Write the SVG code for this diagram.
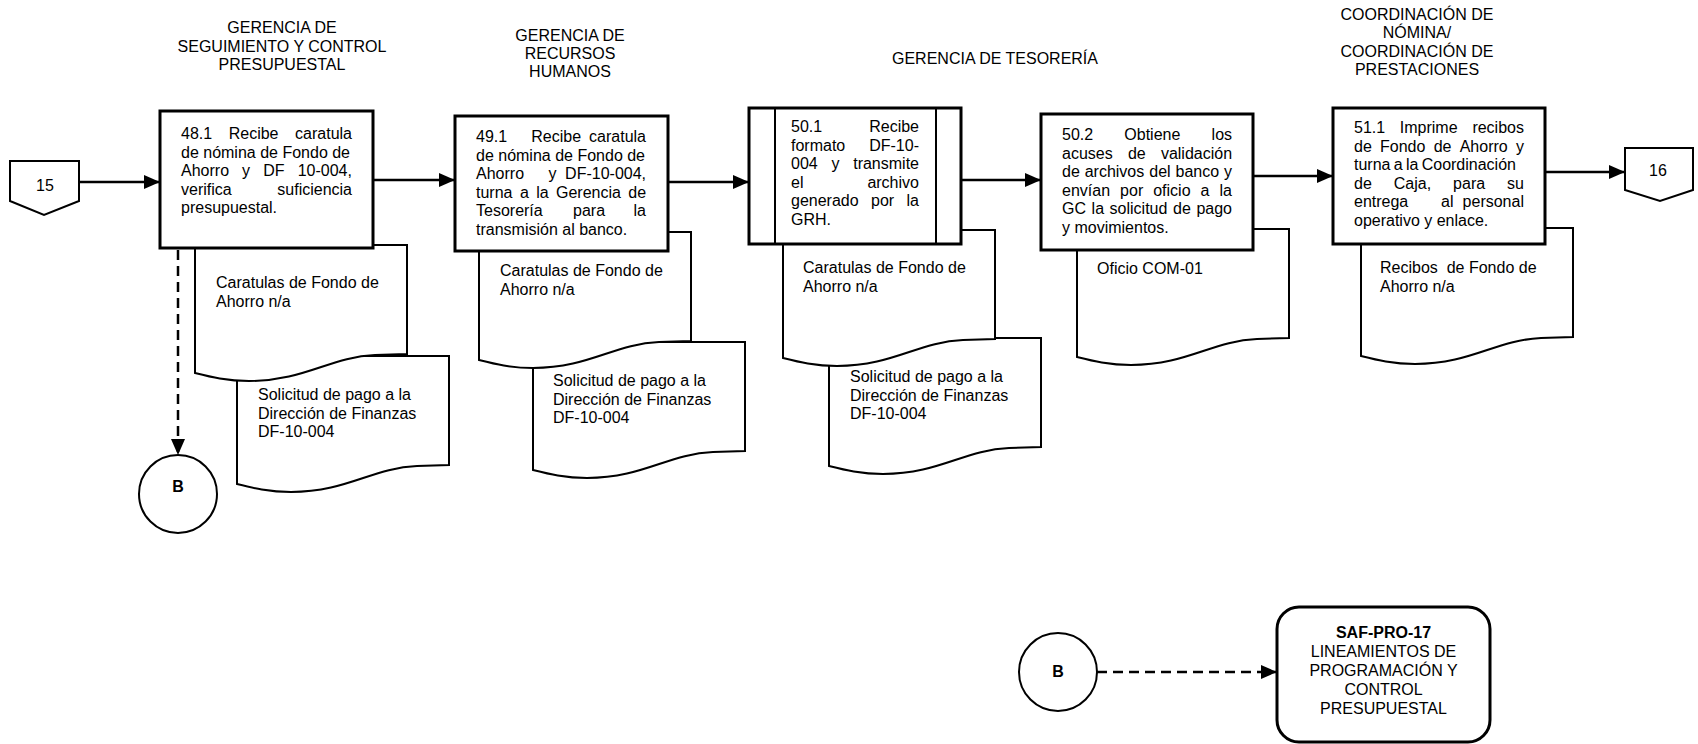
<svg xmlns="http://www.w3.org/2000/svg" xmlns:xlink="http://www.w3.org/1999/xlink" width="1698" height="744" viewBox="0 0 1698 744">
  <style>
    text { font-family: "Liberation Sans", Arial, sans-serif; font-size: 16px; fill: #000; }
    .hdr { text-anchor: middle; }
    .mid { text-anchor: middle; }
    .bold { font-weight: bold; }
    .box { fill: #fff; stroke: #000; stroke-width: 3; }
    .doc { fill: #fff; stroke: #000; stroke-width: 2; }
    .thin { fill: #fff; stroke: #000; stroke-width: 2; }
    .line { fill: none; stroke: #000; stroke-width: 2.5; }
    .dash { fill: none; stroke: #000; stroke-width: 2.5; stroke-dasharray: 10 6; }
  </style>
  <defs>
    <!-- document symbol: flat top, wavy bottom; origin at top-left -->
    <path id="doc" d="M0,0 H212 V109 L180,110 C135,112 110,136 54,136 C32,136 16,132 0,128 Z"/>
    <marker id="arrow" markerUnits="userSpaceOnUse" markerWidth="16" markerHeight="14" refX="16" refY="7" orient="auto">
      <path d="M0,0 L16,7 L0,14 Z" fill="#000"/>
    </marker>
  </defs>

  <rect width="1698" height="744" fill="#fff"/>

  <!-- column headers -->
  <g id="hdr-seguimiento">
    <text class="hdr" x="282" y="33">GERENCIA DE</text>
    <text class="hdr" x="282" y="51.5">SEGUIMIENTO Y CONTROL</text>
    <text class="hdr" x="282" y="70">PRESUPUESTAL</text>
  </g>
  <g id="hdr-rrhh">
    <text class="hdr" x="570" y="41">GERENCIA DE</text>
    <text class="hdr" x="570" y="59">RECURSOS</text>
    <text class="hdr" x="570" y="77">HUMANOS</text>
  </g>
  <g id="hdr-tesoreria">
    <text class="hdr" x="995" y="64">GERENCIA DE TESORERÍA</text>
  </g>
  <g id="hdr-nomina">
    <text class="hdr" x="1417" y="19.5">COORDINACIÓN DE</text>
    <text class="hdr" x="1417" y="38">NÓMINA/</text>
    <text class="hdr" x="1417" y="56.5">COORDINACIÓN DE</text>
    <text class="hdr" x="1417" y="75">PRESTACIONES</text>
  </g>

  <!-- connectors -->
  <g id="connectors">
    <path class="line" d="M79,182 H160" marker-end="url(#arrow)"/>
    <path class="line" d="M373,180 H455" marker-end="url(#arrow)"/>
    <path class="line" d="M668,182 H749" marker-end="url(#arrow)"/>
    <path class="line" d="M961,180 H1041" marker-end="url(#arrow)"/>
    <path class="line" d="M1253,176 H1333" marker-end="url(#arrow)"/>
    <path class="line" d="M1545,172 H1625" marker-end="url(#arrow)"/>
    <path class="dash" d="M178,250 V455" marker-end="url(#arrow)"/>
    <path class="dash" d="M1097,672 H1277" marker-end="url(#arrow)"/>
  </g>

  <!-- off-page connector 15 -->
  <g id="conn-15">
    <path class="thin" d="M10,161 H79 V201 L44,215 L10,201 Z"/>
    <text class="mid" x="45" y="191">15</text>
  </g>

  <!-- step 48.1 with its documents -->
  <g id="doc-48-solicitud">
    <use xlink:href="#doc" href="#doc" class="doc" x="237" y="356"/>
    <text x="258" y="400">Solicitud de pago a la</text>
    <text x="258" y="418.5">Dirección de Finanzas</text>
    <text x="258" y="437">DF-10-004</text>
  </g>
  <g id="doc-48-caratulas">
    <use xlink:href="#doc" href="#doc" class="doc" x="195" y="245"/>
    <text x="216" y="288">Caratulas de Fondo de</text>
    <text x="216" y="306.5">Ahorro n/a</text>
  </g>
  <g id="step-48-1">
    <rect class="box" x="160" y="111" width="213" height="137"/>
    <text y="139"><tspan x="181">48.1</tspan><tspan x="228.7">Recibe</tspan><tspan x="295.1">caratula</tspan></text>
    <text x="181" y="157.5">de nómina de Fondo de</text>
    <text y="176"><tspan x="181">Ahorro</tspan><tspan x="242.1">y</tspan><tspan x="263.3">DF</tspan><tspan x="297.7">10-004,</tspan></text>
    <text y="194.5"><tspan x="181">verifica</tspan><tspan x="277.3">suficiencia</tspan></text>
    <text x="181" y="213">presupuestal.</text>
  </g>

  <!-- step 49.1 with its documents -->
  <g id="doc-49-solicitud">
    <use xlink:href="#doc" href="#doc" class="doc" x="533" y="342"/>
    <text x="553" y="386">Solicitud de pago a la</text>
    <text x="553" y="404.5">Dirección de Finanzas</text>
    <text x="553" y="423">DF-10-004</text>
  </g>
  <g id="doc-49-caratulas">
    <use xlink:href="#doc" href="#doc" class="doc" x="479" y="232"/>
    <text x="500" y="276">Caratulas de Fondo de</text>
    <text x="500" y="294.5">Ahorro n/a</text>
  </g>
  <g id="step-49-1">
    <rect class="box" x="455" y="116" width="213" height="135"/>
    <text y="142"><tspan x="476">49.1</tspan><tspan x="531.3">Recibe</tspan><tspan x="589.1">caratula</tspan></text>
    <text x="476" y="160.5">de nómina de Fondo de</text>
    <text y="179"><tspan x="476">Ahorro</tspan><tspan x="548.4">y</tspan><tspan x="565.1">DF-10-004,</tspan></text>
    <text y="197.5"><tspan x="476">turna</tspan><tspan x="519.9">a</tspan><tspan x="536.2">la</tspan><tspan x="556">Gerencia</tspan><tspan x="628.3">de</tspan></text>
    <text y="216"><tspan x="476">Tesorería</tspan><tspan x="573">para</tspan><tspan x="633.5">la</tspan></text>
    <text x="476" y="234.5">transmisión al banco.</text>
  </g>

  <!-- step 50.1 (predefined process) with its documents -->
  <g id="doc-50-solicitud">
    <use xlink:href="#doc" href="#doc" class="doc" x="829" y="338"/>
    <text x="850" y="382">Solicitud de pago a la</text>
    <text x="850" y="400.5">Dirección de Finanzas</text>
    <text x="850" y="419">DF-10-004</text>
  </g>
  <g id="doc-50-caratulas">
    <use xlink:href="#doc" href="#doc" class="doc" x="783" y="230"/>
    <text x="803" y="273">Caratulas de Fondo de</text>
    <text x="803" y="292">Ahorro n/a</text>
  </g>
  <g id="step-50-1">
    <rect class="box" x="749" y="108" width="212" height="136"/>
    <path d="M775,108 V244 M936,108 V244" fill="none" stroke="#000" stroke-width="2"/>
    <text y="132"><tspan x="791">50.1</tspan><tspan x="869.2">Recibe</tspan></text>
    <text y="150.5"><tspan x="791">formato</tspan><tspan x="869.2">DF-10-</tspan></text>
    <text y="169"><tspan x="791">004</tspan><tspan x="831.4">y</tspan><tspan x="853.2">transmite</tspan></text>
    <text y="187.5"><tspan x="791">el</tspan><tspan x="867.4">archivo</tspan></text>
    <text y="206"><tspan x="791">generado</tspan><tspan x="871">por</tspan><tspan x="906.5">la</tspan></text>
    <text x="791" y="224.5">GRH.</text>
  </g>

  <!-- step 50.2 with its document -->
  <g id="doc-50-oficio">
    <use xlink:href="#doc" href="#doc" class="doc" x="1077" y="229"/>
    <text x="1097" y="274">Oficio COM-01</text>
  </g>
  <g id="step-50-2">
    <rect class="box" x="1041" y="114" width="212" height="136"/>
    <text y="140"><tspan x="1062">50.2</tspan><tspan x="1124.3">Obtiene</tspan><tspan x="1211.6">los</tspan></text>
    <text y="158.5"><tspan x="1062">acuses</tspan><tspan x="1127.9">de</tspan><tspan x="1160.9">validación</tspan></text>
    <text y="177"><tspan x="1062">de</tspan><tspan x="1084.7">archivos</tspan><tspan x="1149.3">del</tspan><tspan x="1175.5">banco</tspan><tspan x="1224">y</tspan></text>
    <text y="195.5"><tspan x="1062">envían</tspan><tspan x="1120.1">por</tspan><tspan x="1153.2">oficio</tspan><tspan x="1200.6">a</tspan><tspan x="1219.5">la</tspan></text>
    <text y="214"><tspan x="1062">GC</tspan><tspan x="1091.6">la</tspan><tspan x="1109.6">solicitud</tspan><tspan x="1173">de</tspan><tspan x="1196.4">pago</tspan></text>
    <text x="1062" y="232.5">y movimientos.</text>
  </g>

  <!-- step 51.1 with its document -->
  <g id="doc-51-recibos">
    <use xlink:href="#doc" href="#doc" class="doc" x="1361" y="228"/>
    <text x="1380" y="273" xml:space="preserve">Recibos  de Fondo de</text>
    <text x="1380" y="291.5">Ahorro n/a</text>
  </g>
  <g id="step-51-1">
    <rect class="box" x="1333" y="108" width="212" height="136"/>
    <text y="133"><tspan x="1354">51.1</tspan><tspan x="1399.8">Imprime</tspan><tspan x="1472.4">recibos</tspan></text>
    <text y="151.5"><tspan x="1354">de</tspan><tspan x="1380">Fondo</tspan><tspan x="1433.7">de</tspan><tspan x="1459.7">Ahorro</tspan><tspan x="1516">y</tspan></text>
    <text y="170"><tspan x="1354">turna</tspan><tspan x="1393.8">a</tspan><tspan x="1406">la</tspan><tspan x="1421.7">Coordinación</tspan></text>
    <text y="188.5"><tspan x="1354">de</tspan><tspan x="1393.8">Caja,</tspan><tspan x="1453.1">para</tspan><tspan x="1507.1">su</tspan></text>
    <text y="207"><tspan x="1354">entrega</tspan><tspan x="1441">al</tspan><tspan x="1462.6">personal</tspan></text>
    <text x="1354" y="225.5">operativo y enlace.</text>
  </g>

  <!-- off-page connector 16 -->
  <g id="conn-16">
    <path class="thin" d="M1625,148 H1693 V190 L1660,201 L1625,190 Z"/>
    <text class="mid" x="1658" y="176">16</text>
  </g>

  <!-- on-page connector B (outgoing) -->
  <g id="conn-b-out">
    <circle class="thin" cx="178" cy="494" r="39"/>
    <text class="mid bold" x="178" y="492">B</text>
  </g>

  <!-- on-page connector B (incoming) -->
  <g id="conn-b-in">
    <circle class="thin" cx="1058" cy="672" r="39"/>
    <text class="mid bold" x="1058" y="677">B</text>
  </g>

  <!-- referenced procedure -->
  <g id="ref-saf-pro-17">
    <rect class="box" x="1277" y="607" width="213" height="135" rx="22" ry="22"/>
    <text class="mid bold" x="1383.5" y="638">SAF-PRO-17</text>
    <text class="mid" x="1383.5" y="657">LINEAMIENTOS DE</text>
    <text class="mid" x="1383.5" y="676">PROGRAMACIÓN Y</text>
    <text class="mid" x="1383.5" y="695">CONTROL</text>
    <text class="mid" x="1383.5" y="714">PRESUPUESTAL</text>
  </g>
</svg>
